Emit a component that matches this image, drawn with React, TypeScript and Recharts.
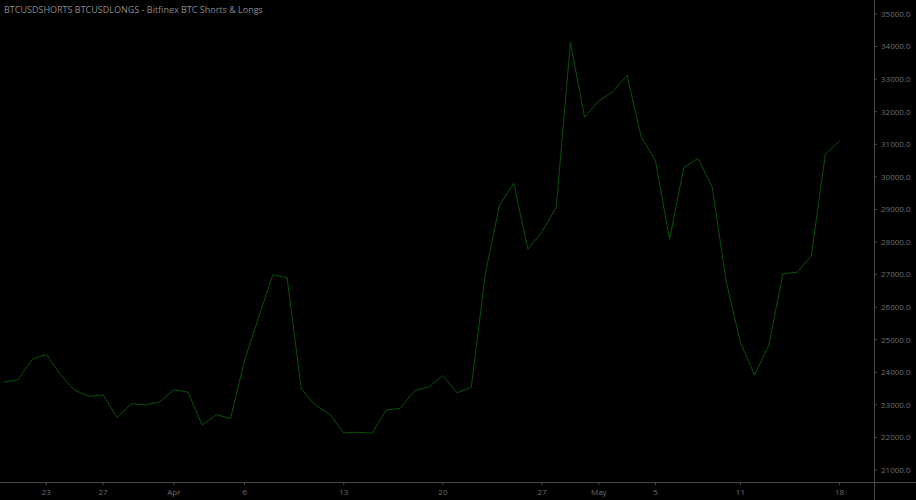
import { LineChart, Line, XAxis, YAxis } from 'recharts'

// daily closes, Mar 20 .. May 18
const startDate = new Date(2020, 2, 20)
const dayCount = 60

const values = [
  23700, 23770, 24400, 24550, 23920, 23450, 23260, 23310, 22610, 23030,
  23000, 23090, 23460, 23390, 22380, 22700, 22580, 24380, 25700, 27000,
  26900, 23490, 22980, 22720, 22140, 22160, 22130, 22840, 22900, 23440,
  23550, 23900, 23370, 23540, 27040, 29140, 29800, 27780, 28320, 29070,
  34120, 31830, 32330, 32620, 33110, 31230, 30500, 28080, 30280, 30570,
  29700, 26780, 24920, 23920, 24820, 27030, 27070, 27570, 30700, 31100,
]

const tickDates = ['03-23', '03-27', '04-01', '04-06', '04-13', '04-20', '04-27', '05-01', '05-05', '05-11', '05-18']
const tickLabels = ['23', '27', 'Apr', '6', '13', '20', '27', 'May', '5', '11', '18']

const yTicks = [21000, 22000, 23000, 24000, 25000, 26000, 27000, 28000, 29000, 30000, 31000, 32000, 33000, 34000, 35000]

const pad = (n: number) => String(n).padStart(2, '0')
const dates: string[] = []
for (let i = 0; i < dayCount; i++) {
  const d = new Date(startDate)
  d.setDate(d.getDate() + i)
  dates.push(`${pad(d.getMonth() + 1)}-${pad(d.getDate())}`)
}

const data = dates.map((date, i) => ({ idx: i, date, value: values[i] }))
const xTicks = tickDates.map(t => dates.indexOf(t))

const AXIS = '#4a4a4a'
const TEXT = '#6e6e6e'
const FONT = '"Open Sans", sans-serif'

export default function App() {
  return (
    <div style={{ position: 'fixed', left: 0, top: 0, width: 916, height: 500, background: '#000', fontFamily: FONT }}>
      <LineChart width={916} height={500} data={data} margin={{ top: 0, right: 0, bottom: 0, left: 0 }}>
        <XAxis
          dataKey="idx"
          type="number"
          domain={[-0.27, 61.43]}
          allowDataOverflow
          ticks={xTicks}
          tickFormatter={(v: number) => tickLabels[xTicks.indexOf(v)] ?? ''}
          height={18}
          axisLine={false}
          tickLine={{ stroke: AXIS }}
          tickSize={3}
          tickMargin={4}
          tick={{ fill: TEXT, fontSize: 8, fontFamily: FONT }}
          interval={0}
        />
        <YAxis
          orientation="right"
          type="number"
          domain={[20632, 35430]}
          allowDataOverflow
          ticks={yTicks}
          tickFormatter={(v: number) => v.toFixed(1)}
          width={42}
          axisLine={false}
          tickLine={{ stroke: AXIS }}
          tickSize={3}
          tickMargin={4}
          tick={{ fill: TEXT, fontSize: 8, fontFamily: FONT }}
          interval={0}
        />
        <Line
          type="linear"
          dataKey="value"
          stroke="#0a520a"
          strokeWidth={1}
          dot={false}
          activeDot={false}
          isAnimationActive={false}
        />
      </LineChart>
      <div style={{ position: 'absolute', left: 0, top: 482, width: 916, height: 1, background: AXIS }} />
      <div style={{ position: 'absolute', left: 874, top: 0, width: 1, height: 500, background: AXIS }} />
      <div style={{ position: 'absolute', left: 4, top: 3, fontSize: 9, color: '#8a8a8a', whiteSpace: 'nowrap' }}>
        BTCUSDSHORTS BTCUSDLONGS - Bitfinex BTC Shorts &amp; Longs
      </div>
    </div>
  )
}
